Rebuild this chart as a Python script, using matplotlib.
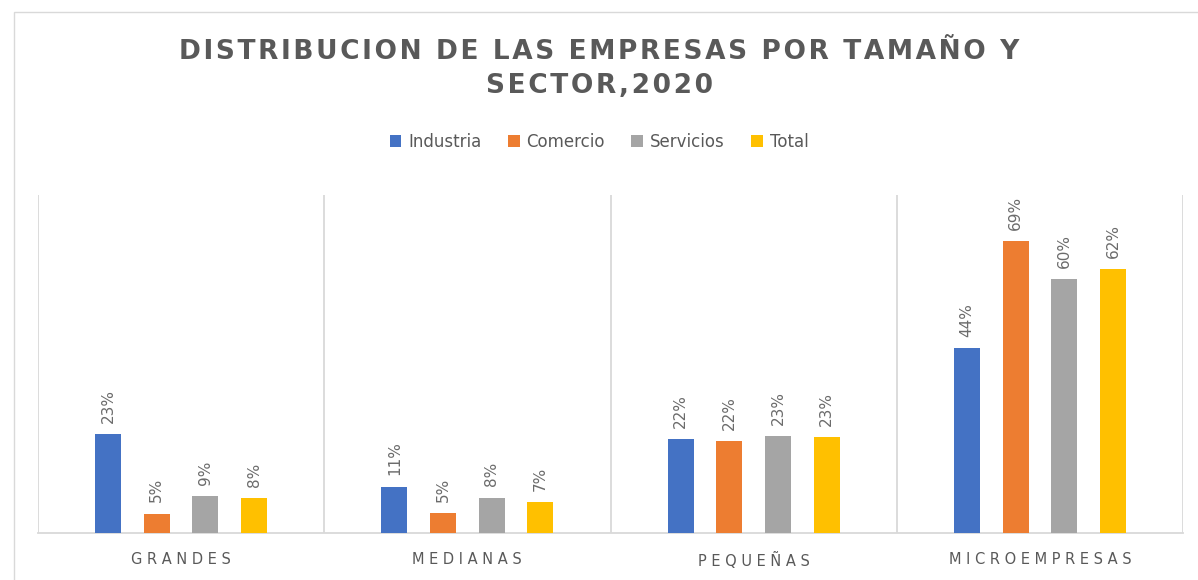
import matplotlib.pyplot as plt
import numpy as np
from matplotlib.patches import Rectangle

# data (percent)
categorias = ['GRANDES', 'MEDIANAS', 'PEQUEÑAS', 'MICROEMPRESAS']
sectores = ['Industria', 'Comercio', 'Servicios', 'Total']
industria = [23.4, 11.0, 22.2, 43.7]
comercio = [4.6, 4.8, 21.7, 69.1]
servicios = [8.7, 8.4, 23.0, 60.0]
total = [8.2, 7.4, 22.6, 62.4]
colores = ['#4472C4', '#ED7D31', '#A5A5A5', '#FFC000']

gris = '#595959'


def espaciar(s, sep='\u200a'):
    return sep.join(s)


fig = plt.figure(figsize=(11.98, 5.80), dpi=100)
ax = fig.add_axes([0.0317, 0.081, 0.9558, 0.583])

x = np.arange(len(categorias))
ancho = 0.091
paso = 0.17
series = [industria, comercio, servicios, total]

for i, (vals, nombre, col) in enumerate(zip(series, sectores, colores)):
    pos = x + (i - 1.5) * paso
    barras = ax.bar(pos, vals, ancho, color=col, label=nombre, zorder=3)
    for b, v in zip(barras, vals):
        ax.annotate(f'{round(v)}%', (b.get_x() + b.get_width() / 2, v),
                    xytext=(0, 8), textcoords='offset points',
                    rotation=90, ha='center', va='bottom',
                    fontsize=11, color='#6b6b6b')

ax.set_xlim(-0.5, len(categorias) - 0.5)
ax.set_ylim(0, 80)
ax.set_yticks([])
ax.set_xticks(x)
ax.set_xticklabels([' '.join(c) for c in categorias], fontsize=10.5, color=gris)
ax.tick_params(axis='x', length=0, pad=14)

# vertical gridlines between categories
for b in np.arange(-0.5, len(categorias), 1.0):
    ax.axvline(b, color='#D9D9D9', lw=1.3, zorder=1)

for s in ['top', 'right', 'left']:
    ax.spines[s].set_visible(False)
ax.spines['bottom'].set_color('#D9D9D9')
ax.spines['bottom'].set_linewidth(1.3)

fig.text(0.5, 0.91, espaciar('DISTRIBUCION DE LAS EMPRESAS POR TAMAÑO Y'),
         ha='center', va='center', fontsize=19, fontweight='bold', color=gris)
fig.text(0.5, 0.852, espaciar('SECTOR,2020'),
         ha='center', va='center', fontsize=19, fontweight='bold', color=gris)

fig.legend(loc='center', bbox_to_anchor=(0.5, 0.755), ncol=4, frameon=False,
           fontsize=12, labelcolor=gris, handlelength=0.7, handleheight=0.7,
           handletextpad=0.4, columnspacing=1.6)

# chart frame
fig.patches.append(Rectangle((0.012, -0.01), 0.99, 0.99, transform=fig.transFigure,
                             fill=False, edgecolor='#D9D9D9', lw=1))

plt.savefig('out.png', dpi=100)
